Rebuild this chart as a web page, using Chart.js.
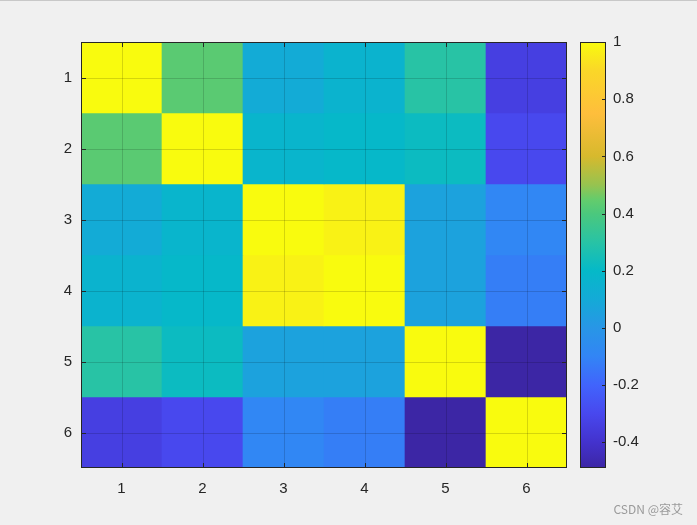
<!DOCTYPE html>
<html>
<head>
<meta charset="utf-8">
<script src="https://cdn.jsdelivr.net/npm/chart.js@4.4.1/dist/chart.umd.min.js"></script>
<style>
  html, body { margin: 0; padding: 0; background: #f0f0f0; }
  #wrap { position: relative; width: 697px; height: 525px; overflow: hidden; border-top: 1px solid #c8c8c8; box-sizing: border-box; }
  #heat { position: absolute; left: 0; top: -1px; }
  #cbar { position: absolute; left: 570px; top: -1px; }
  #mark { position: absolute; right: 14px; bottom: 8px; font: 12px "Noto Sans CJK SC", "Liberation Sans", sans-serif; color: #9a9a9a; }
</style>
</head>
<body>
<div id="wrap">
  <canvas id="heat" width="575" height="525"></canvas>
  <canvas id="cbar" width="127" height="525"></canvas>
  <div id="mark">CSDN @容艾</div>
</div>
<script>
// data
const rowLabels = ['1', '2', '3', '4', '5', '6'];
const colLabels = ['1', '2', '3', '4', '5', '6'];
const row1 = [1.00, 0.43, 0.105, 0.16, 0.30, -0.34];
const row2 = [0.43, 1.00, 0.17, 0.19, 0.22, -0.30];
const row3 = [0.105, 0.17, 1.00, 0.975, 0.06, -0.09];
const row4 = [0.16, 0.19, 0.975, 1.00, 0.06, -0.12];
const row5 = [0.30, 0.22, 0.06, 0.06, 1.00, -0.49];
const row6 = [-0.34, -0.30, -0.09, -0.12, -0.49, 1.00];
const rows = [row1, row2, row3, row4, row5, row6];
const cbarTicks = [-0.4, -0.2, 0, 0.2, 0.4, 0.6, 0.8, 1];
const cmin = -0.49, cmax = 1;

// parula-like colormap stops (position, r, g, b)
const cmap = [
    [0.000, 60, 38, 165],
    [0.060, 67, 50, 205],
    [0.128, 72, 72, 238],
    [0.195, 65, 100, 252],
    [0.262, 50, 133, 245],
    [0.329, 40, 150, 230],
    [0.396, 20, 170, 215],
    [0.463, 5, 185, 200],
    [0.530, 40, 195, 165],
    [0.597, 75, 200, 125],
    [0.630, 100, 204, 108],
    [0.664, 150, 195, 80],
    [0.732, 215, 185, 45],
    [0.832, 254, 190, 60],
    [0.933, 250, 215, 40],
    [1.000, 249, 251, 14]
];

function mapColor(v) {
    let t = (v - cmin) / (cmax - cmin);
    t = Math.max(0, Math.min(1, t));
    for (let i = 1; i < cmap.length; i++) {
        if (t <= cmap[i][0]) {
            const a = cmap[i - 1], b = cmap[i];
            const f = (t - a[0]) / (b[0] - a[0]);
            const c = [1, 2, 3].map(k => Math.round(a[k] + (b[k] - a[k]) * f));
            return `rgb(${c[0]},${c[1]},${c[2]})`;
        }
    }
    return 'rgb(249,251,14)';
}

const axisColor = '#262626';
const tickFont = { family: '"Liberation Sans", Arial, sans-serif', size: 15 };

// grid on top, box and inward ticks like matlab
const boxPlugin = {
    id: 'box',
    afterDraw(chart, args, opts) {
        const ctx = chart.ctx, a = chart.chartArea;
        const len = opts.len || 5;
        ctx.save();
        if (opts.grid) {
            ctx.strokeStyle = 'rgba(0,0,0,0.15)';
            ctx.lineWidth = 1;
            ctx.beginPath();
            const xs = chart.scales.x, ys = chart.scales.y;
            xs.ticks.forEach((t, i) => {
                const x = Math.round(xs.getPixelForTick(i)) + 0.5;
                ctx.moveTo(x, a.top); ctx.lineTo(x, a.bottom);
            });
            ys.ticks.forEach(t => {
                const y = Math.round(ys.getPixelForValue(t.value)) + 0.5;
                ctx.moveTo(a.left, y); ctx.lineTo(a.right, y);
            });
            ctx.stroke();
        }
        ctx.strokeStyle = axisColor;
        ctx.lineWidth = 1;
        ctx.strokeRect(Math.round(a.left) + 0.5, Math.round(a.top) + 0.5, Math.round(a.right - a.left) - 1, Math.round(a.bottom - a.top) - 1);
        ctx.beginPath();
        if (opts.xTicks) {
            const xs = chart.scales.x;
            xs.ticks.forEach((t, i) => {
                const x = Math.round(xs.getPixelForTick(i)) + 0.5;
                ctx.moveTo(x, a.bottom); ctx.lineTo(x, a.bottom - len);
                ctx.moveTo(x, a.top); ctx.lineTo(x, a.top + len);
            });
        }
        const ys = chart.scales.y;
        ys.ticks.forEach(t => {
            const y = Math.round(ys.getPixelForValue(t.value)) + 0.5;
            if (opts.leftTicks) { ctx.moveTo(a.left, y); ctx.lineTo(a.left + len, y); }
            ctx.moveTo(a.right, y); ctx.lineTo(a.right - len, y);
        });
        ctx.stroke();
        ctx.restore();
    }
};

Chart.defaults.devicePixelRatio = 1;

// heatmap: one floating bar per cell
const heatDatasets = rows.map((vals, r) => ({
    label: rowLabels[r],
    data: vals.map(() => [r + 0.5, r + 1.5]),
    backgroundColor: vals.map(mapColor),
    borderWidth: 0,
    barPercentage: 1,
    categoryPercentage: 1,
    grouped: false
}));

new Chart(document.getElementById('heat'), {
    type: 'bar',
    data: { labels: colLabels, datasets: heatDatasets },
    options: {
        responsive: false,
        animation: false,
        layout: { padding: { top: 42, right: 8, bottom: 0, left: 0 } },
        plugins: { legend: { display: false }, tooltip: { enabled: false }, box: { grid: true, xTicks: true, leftTicks: true, len: 5 } },
        scales: {
            x: {
                offset: true,
                grid: { display: false, drawTicks: false },
                border: { display: false },
                ticks: { color: axisColor, font: tickFont, padding: 12, maxRotation: 0 },
                afterFit: s => { s.height = 57; }
            },
            y: {
                min: 0.5,
                max: 6.5,
                reverse: true,
                grid: { display: false, drawTicks: false },
                border: { display: false },
                afterBuildTicks: s => { s.ticks = rowLabels.map((l, i) => ({ value: i + 1 })); },
                ticks: { color: axisColor, font: tickFont, padding: 9, callback: v => String(v) },
                afterFit: s => { s.width = 81; }
            }
        }
    },
    plugins: [boxPlugin]
});

// colorbar
function cbarFill(context) {
    const area = context.chart.chartArea;
    if (!area) return mapColor(0.5);
    const g = context.chart.ctx.createLinearGradient(0, area.bottom, 0, area.top);
    cmap.forEach(s => g.addColorStop(s[0], `rgb(${s[1]},${s[2]},${s[3]})`));
    return g;
}

new Chart(document.getElementById('cbar'), {
    type: 'bar',
    data: { labels: [''], datasets: [{ data: [[cmin, cmax]], backgroundColor: cbarFill, borderWidth: 0, barPercentage: 1, categoryPercentage: 1 }] },
    options: {
        responsive: false,
        animation: false,
        layout: { padding: { top: 42, right: 0, bottom: 57, left: 10 } },
        plugins: { legend: { display: false }, tooltip: { enabled: false }, box: { xTicks: false, leftTicks: false, len: 4 } },
        scales: {
            x: { display: false },
            y: {
                position: 'right',
                min: cmin,
                max: cmax,
                grid: { display: false, drawTicks: false },
                border: { display: false },
                afterBuildTicks: s => { s.ticks = cbarTicks.map(v => ({ value: v })); },
                ticks: { color: axisColor, font: tickFont, padding: 7, callback: v => String(Math.round(v * 10) / 10) },
                afterFit: s => { s.width = 91; }
            }
        }
    },
    plugins: [boxPlugin]
});
</script>
</body>
</html>
